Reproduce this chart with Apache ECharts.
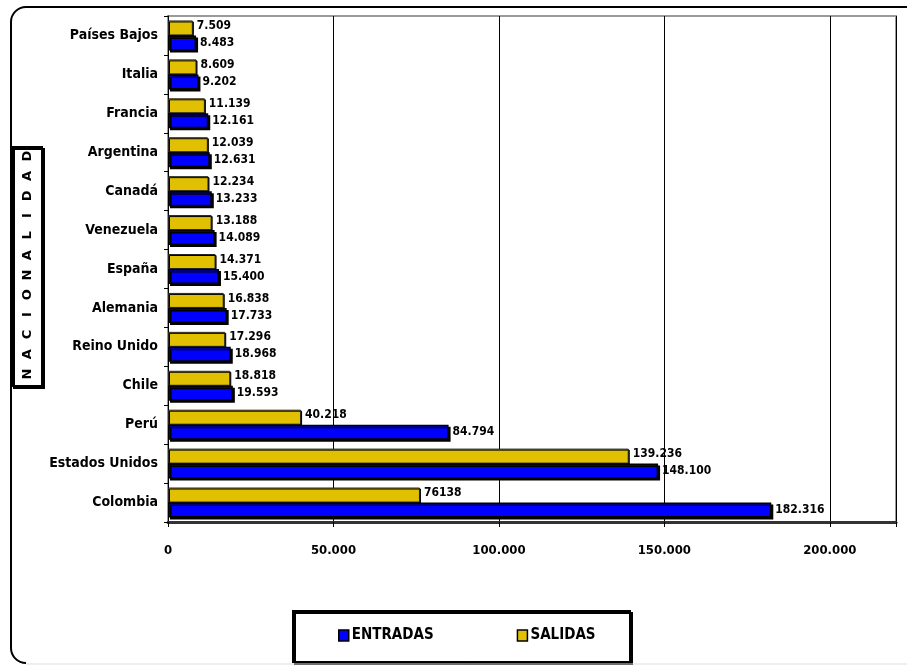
<!DOCTYPE html>
<html>
<head>
<meta charset="utf-8">
<script src="https://cdn.jsdelivr.net/npm/echarts@6/dist/echarts.min.js"></script>
<style>
  html, body { margin: 0; padding: 0; background: #fff; }
  #chart { width: 907px; height: 665px; }
</style>
</head>
<body>
<div id="chart"></div>
<script>
// Nationalities, listed bottom to top as drawn on the category axis
const categories = ['Colombia', 'Estados Unidos', 'Perú', 'Chile', 'Reino Unido', 'Alemania',
  'España', 'Venezuela', 'Canadá', 'Argentina', 'Francia', 'Italia', 'Países Bajos'];

// Arrivals (ENTRADAS) and departures (SALIDAS)
const entradas = [182316, 148100, 84794, 19593, 18968, 17733, 15400, 14089, 13233, 12631, 12161, 9202, 8483];
const salidas = [76138, 139236, 40218, 18818, 17296, 16838, 14371, 13188, 12234, 12039, 11139, 8609, 7509];

// Value axis ticks
const xMax = 220000;
const xInterval = 50000;

// Departures figure printed without a thousands separator
const plainSalidas = ['Colombia'];

const FONT = '"Liberation Sans Narrow", "DejaVu Sans Condensed", "Arial Narrow", sans-serif';

function fmt(v) {
  return String(v).replace(/\B(?=(\d{3})+(?!\d))/g, '.');
}

const chart = echarts.init(document.getElementById('chart'));

// Spaced-out vertical axis title, one letter per step
const title = 'NACIONALIDAD';
const letterPitch = 19.8;
const letters = title.split('').map((ch, i) => ({
  type: 'text',
  x: i * letterPitch,
  y: 0,
  z: 102,
  style: {
    text: ch,
    font: 'bold 13px "DejaVu Sans", sans-serif',
    fill: '#000',
    align: 'center',
    verticalAlign: 'middle'
  }
}));

const frameStyle = { fill: null, stroke: '#000', lineWidth: 2 };

const option = {
  animation: false,
  backgroundColor: '#fff',
  grid: {
    left: 168, right: 11, top: 16, bottom: 143,
    show: true, borderColor: '#9a9a9a', borderWidth: 2, backgroundColor: 'transparent'
  },
  legend: {
    data: ['ENTRADAS', 'SALIDAS'],
    left: 338, top: 628,
    padding: 0,
    itemWidth: 10, itemHeight: 11,
    itemGap: 83,
    icon: 'rect',
    itemStyle: { borderColor: '#000', borderWidth: 1.5 },
    textStyle: { fontFamily: FONT, fontWeight: 'bold', fontSize: 15, color: '#000', padding: [0, 0, 0, -2] }
  },
  xAxis: {
    type: 'value',
    min: 0, max: xMax, interval: xInterval,
    axisLine: { show: true, lineStyle: { color: '#333', width: 3 } },
    axisTick: { show: true, length: 5, lineStyle: { color: '#000' } },
    splitLine: { show: true, lineStyle: { color: '#000', width: 1 } },
    axisLabel: {
      margin: 22,
      fontFamily: FONT, fontWeight: 'bold', fontSize: 13, color: '#000',
      formatter: v => (v === xMax ? '' : fmt(v))
    }
  },
  yAxis: {
    type: 'category',
    data: categories,
    axisLine: { show: true, lineStyle: { color: '#000', width: 1 } },
    axisTick: { show: true, length: 4, lineStyle: { color: '#000' } },
    axisLabel: { margin: 10, fontFamily: FONT, fontWeight: 'bold', fontSize: 14, color: '#000' }
  },
  series: [
    {
      name: 'SALIDAS',
      type: 'bar',
      data: salidas,
      barWidth: 15,
      barGap: '0%',
      itemStyle: { color: '#e0c000', borderColor: '#222', borderWidth: 1, shadowColor: '#000', shadowOffsetX: 1, shadowOffsetY: 1, shadowBlur: 0 },
      label: {
        show: true, position: 'right', distance: 4, offset: [0, -2],
        fontFamily: FONT, fontWeight: 'bold', fontSize: 12, color: '#000',
        formatter: p => (plainSalidas.includes(p.name) ? String(p.value) : fmt(p.value))
      }
    },
    {
      name: 'ENTRADAS',
      type: 'bar',
      data: entradas,
      barWidth: 15,
      barGap: '0%',
      itemStyle: { color: '#0000ff', borderColor: '#000', borderWidth: 1.5, shadowColor: '#000', shadowOffsetX: 2, shadowOffsetY: 2, shadowBlur: 0 },
      label: {
        show: true, position: 'right', distance: 4,
        fontFamily: FONT, fontWeight: 'bold', fontSize: 12, color: '#000',
        formatter: p => fmt(p.value)
      }
    }
  ],
  graphic: [
    // outer frame: top edge, rounded left corners and left side
    { type: 'line', silent: true, z: 100, shape: { x1: 907, y1: 7, x2: 26, y2: 7 }, style: frameStyle },
    { type: 'arc', silent: true, z: 100, shape: { cx: 26, cy: 22, r: 15, startAngle: Math.PI, endAngle: Math.PI * 1.5 }, style: frameStyle },
    { type: 'line', silent: true, z: 100, shape: { x1: 11, y1: 22, x2: 11, y2: 648 }, style: frameStyle },
    { type: 'arc', silent: true, z: 100, shape: { cx: 26, cy: 648, r: 15, startAngle: Math.PI * 0.5, endAngle: Math.PI }, style: frameStyle },
    { type: 'line', silent: true, z: 100, shape: { x1: 26, y1: 664, x2: 907, y2: 664 }, style: { stroke: '#ddd', lineWidth: 1 } },
    // axis title box
    {
      type: 'rect', silent: true, z: 100,
      shape: { x: 12, y: 147, width: 30, height: 239 },
      style: { fill: '#fff', stroke: '#000', lineWidth: 2, shadowColor: '#000', shadowOffsetX: 2, shadowOffsetY: 2, shadowBlur: 0 }
    },
    {
      type: 'group', silent: true, z: 102,
      x: 28, y: 374, rotation: Math.PI / 2,
      children: letters
    },
    // legend box
    {
      type: 'rect', silent: true, z: 1,
      shape: { x: 293, y: 611, width: 337, height: 51 },
      style: { fill: '#fff', stroke: '#000', lineWidth: 2, shadowColor: '#000', shadowOffsetX: 2, shadowOffsetY: 2, shadowBlur: 0 }
    }
  ]
};

chart.setOption(option);
</script>
</body>
</html>
